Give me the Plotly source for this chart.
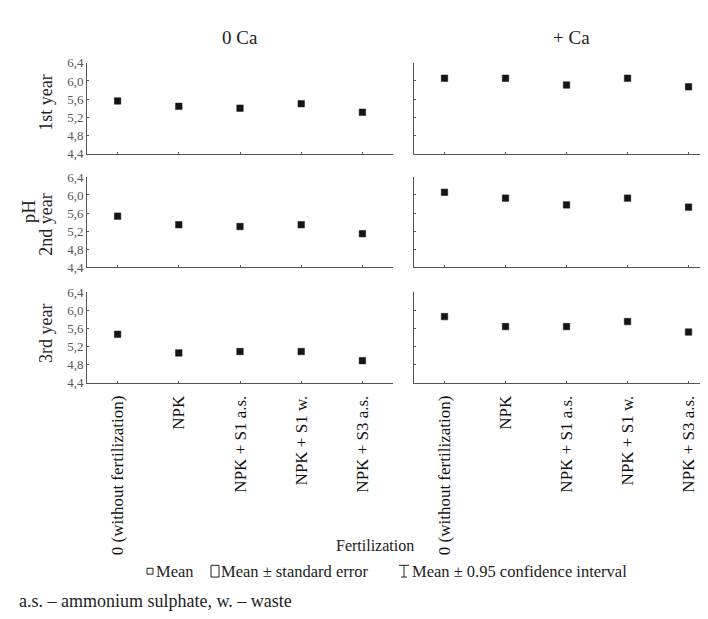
import plotly.graph_objects as go

categories = ["0 (without fertilization)", "NPK", "NPK + S1 a.s.", "NPK + S1 w.", "NPK + S3 a.s."]
groups = ["0 Ca", "+ Ca"]
years = ["1st year", "2nd year", "3rd year"]

ph_0ca_y1 = [5.56, 5.44, 5.40, 5.50, 5.31]
ph_ca_y1 = [6.06, 6.06, 5.91, 6.06, 5.87]
ph_0ca_y2 = [5.53, 5.34, 5.30, 5.34, 5.14]
ph_ca_y2 = [6.06, 5.93, 5.78, 5.93, 5.73]
ph_0ca_y3 = [5.47, 5.06, 5.09, 5.09, 4.89]
ph_ca_y3 = [5.86, 5.64, 5.64, 5.75, 5.52]

y_tickvals = [4.4, 4.8, 5.2, 5.6, 6.0, 6.4]
y_ticktext = ["4,4", "4,8", "5,2", "5,6", "6,0", "6,4"]

W, H = 708, 619
FONT = "Times New Roman, Liberation Serif, DejaVu Serif, serif"
AX = "#555555"

def px(x):
    return x / W

def py(y):
    return 1 - y / H

x_domains = [[px(79), px(385)], [px(406), 1.0]]
x_ranges = [[-0.5, 4.5], [-0.5, 4.45]]
y_rows = [(49, 142), (166, 258.3), (284, 377)]

data = [[ph_0ca_y1, ph_ca_y1], [ph_0ca_y2, ph_ca_y2], [ph_0ca_y3, ph_ca_y3]]

fig = go.Figure()
layout = dict(
    width=W, height=H, margin=dict(l=0, r=0, t=0, b=0),
    paper_bgcolor="white", plot_bgcolor="white", showlegend=False,
    font=dict(family=FONT, color="#222222"),
)

n = 0
for r in range(3):
    for c in range(2):
        n += 1
        xa = "x" if n == 1 else f"x{n}"
        ya = "y" if n == 1 else f"y{n}"
        fig.add_trace(go.Scatter(
            x=categories, y=data[r][c], mode="markers", xaxis=xa, yaxis=ya,
            marker=dict(symbol="square", size=6.5, color="#151515",
                        line=dict(width=0.5, color="#151515")),
        ))
        layout[f"xaxis{'' if n == 1 else n}"] = dict(
            domain=x_domains[c], anchor=ya, type="category",
            categoryorder="array", categoryarray=categories,
            range=x_ranges[c], showgrid=False, zeroline=False,
            showline=True, linecolor=AX, linewidth=1,
            ticks="inside", ticklen=2, tickcolor=AX,
            showticklabels=(r == 2), tickangle=-90,
            tickfont=dict(family=FONT, size=17, color="#111111"),
            ticklabelstandoff=5,
        )
        y0, y1 = y_rows[r]
        layout[f"yaxis{'' if n == 1 else n}"] = dict(
            domain=[py(y1), py(y0)], anchor=xa, range=[4.4, 6.4],
            showgrid=False, zeroline=False, showline=True,
            linecolor=AX, linewidth=1, ticks="inside", ticklen=2,
            tickcolor=AX, tickvals=y_tickvals, ticktext=y_ticktext,
            showticklabels=(c == 0),
            tickfont=dict(family=FONT, size=13, color="#555555"),
        )

fig.update_layout(**layout)

ann = []
ann.append(dict(text=groups[0], x=px(232), y=py(23), font=dict(size=19)))
ann.append(dict(text=groups[1], x=px(563), y=py(23), font=dict(size=19)))
ann.append(dict(text=years[0], x=px(38), y=py(90), textangle=-90, font=dict(size=18)))
ann.append(dict(text=years[1], x=px(38), y=py(215), textangle=-90, font=dict(size=18)))
ann.append(dict(text="pH", x=px(20), y=py(201), textangle=-90, font=dict(size=19)))
ann.append(dict(text=years[2], x=px(38), y=py(327), textangle=-90, font=dict(size=18)))
ann.append(dict(text="Fertilization", x=px(367), y=py(544), font=dict(size=16)))
# legend texts
ann.append(dict(text="Mean", x=px(146), y=py(570), xanchor="left", font=dict(size=16.5)))
ann.append(dict(text="Mean ± standard error", x=px(211), y=py(570), xanchor="left", font=dict(size=16.5)))
ann.append(dict(text="Mean ± 0.95 confidence interval", x=px(402), y=py(570), xanchor="left", font=dict(size=16.5)))
ann.append(dict(text="a.s. – ammonium sulphate, w. – waste", x=px(9), y=py(601), xanchor="left", font=dict(size=18)))
for a in ann:
    a.setdefault("xanchor", "center")
    a.update(xref="paper", yref="paper", yanchor="middle", showarrow=False)
    a["font"] = dict(family=FONT, color="#222222", **a["font"])
fig.update_layout(annotations=ann)

shapes = [
    dict(type="rect", x0=px(139), x1=px(145), y0=py(573), y1=py(567)),
    dict(type="rect", x0=px(203), x1=px(211), y0=py(576), y1=py(564)),
    dict(type="line", x0=px(391), x1=px(401), y0=py(564), y1=py(564)),
    dict(type="line", x0=px(396), x1=px(396), y0=py(564), y1=py(576)),
    dict(type="line", x0=px(393), x1=px(399), y0=py(576), y1=py(576)),
]
for s in shapes:
    s.update(xref="paper", yref="paper", line=dict(color="#222222", width=1))
fig.update_layout(shapes=shapes)

fig.write_html("out.html")
